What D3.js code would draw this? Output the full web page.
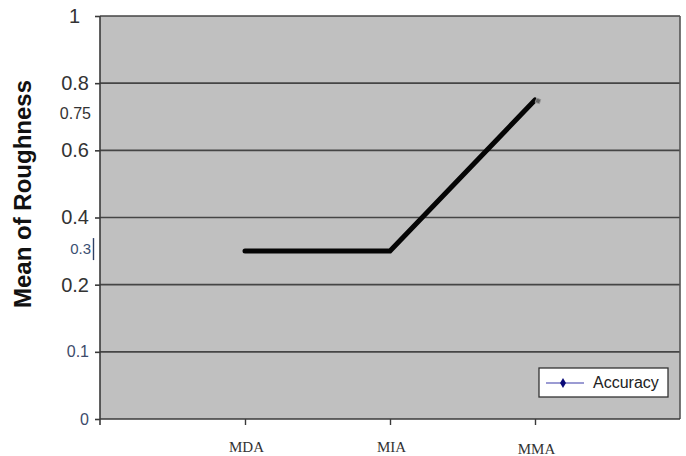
<!DOCTYPE html>
<html>
<head>
<meta charset="utf-8">
<script src="https://cdn.jsdelivr.net/npm/d3@7/dist/d3.min.js"></script>
<style>
  html, body { margin: 0; padding: 0; background: #fff; }
  svg { display: block; }
</style>
</head>
<body>
<svg id="chart" width="686" height="456"></svg>
<script>
// Method categories along the x axis
const categories = ["MDA", "MIA", "MMA"];
// Mean roughness (Accuracy series) per method
const accuracy = [0.3, 0.3, 0.75];
// Labelled tick values on the y axis (evenly spaced on screen)
const yTicks = [0, 0.1, 0.2, 0.4, 0.6, 0.8, 1];
// Values annotated beside the y axis
const valueLabels = [0.75, 0.3];
const seriesName = "Accuracy";
const yTitle = "Mean of Roughness";

const SANS = "'Liberation Sans', Arial, sans-serif";
const SERIF = "'Liberation Serif', 'Times New Roman', serif";

const svg = d3.select("#chart");
const plot = { left: 100, right: 680, top: 16, bottom: 419 };

const x = d3.scalePoint()
  .domain(categories)
  .range([plot.left, plot.right])
  .padding(1);

// Piecewise scale: each labelled tick takes an equal step on screen
const step = (plot.bottom - plot.top) / (yTicks.length - 1);
const y = d3.scaleLinear()
  .domain(yTicks)
  .range(yTicks.map((d, i) => plot.bottom - i * step));

// Plot background
svg.append("rect")
  .attr("x", plot.left).attr("y", plot.top)
  .attr("width", plot.right - plot.left)
  .attr("height", plot.bottom - plot.top)
  .attr("fill", "#c0c0c0");

// Horizontal gridlines
svg.append("g")
  .selectAll("line")
  .data(yTicks.filter(d => d > 0))
  .join("line")
  .attr("x1", plot.left).attr("x2", plot.right)
  .attr("y1", d => y(d)).attr("y2", d => y(d))
  .attr("stroke", "#454545")
  .attr("stroke-width", 1.6);

// Right frame edge
svg.append("line")
  .attr("x1", plot.right).attr("x2", plot.right)
  .attr("y1", plot.top).attr("y2", plot.bottom)
  .attr("stroke", "#555").attr("stroke-width", 1.6);

// Y axis
const yAxis = svg.append("g")
  .attr("transform", `translate(${plot.left},0)`)
  .call(d3.axisLeft(y)
    .tickValues(yTicks)
    .tickSize(5)
    .tickSizeOuter(0)
    .tickPadding(6)
    .tickFormat(d => String(d)));
yAxis.select(".domain").remove();
yAxis.selectAll(".tick line").attr("stroke", "#3a3a3a").attr("stroke-width", 1.6);
yAxis.selectAll(".tick text")
  .style("font-family", SANS)
  .style("font-size", d => (d < 0.2 ? 16 : 20) + "px")
  .attr("fill", d => d < 0.2 ? "#3d4b6b" : "#333")
  .attr("dx", d => d === 1 ? -9 : 0);

// Left axis line (runs slightly past the bottom edge)
svg.append("line")
  .attr("x1", plot.left).attr("x2", plot.left)
  .attr("y1", plot.top).attr("y2", plot.bottom + 6)
  .attr("stroke", "#3a3a3a").attr("stroke-width", 1.6);

// X axis
const xAxis = svg.append("g")
  .attr("transform", `translate(0,${plot.bottom})`)
  .call(d3.axisBottom(x).tickSize(6).tickSizeOuter(0).tickPadding(13));
xAxis.select(".domain")
  .attr("stroke", "#3a3a3a").attr("stroke-width", 1.6)
  .attr("d", `M${plot.left},0H${plot.right}`);
xAxis.selectAll(".tick line").attr("stroke", "#3a3a3a").attr("stroke-width", 1.4);
xAxis.selectAll(".tick text")
  .style("font-family", SERIF)
  .style("font-size", "15px")
  .attr("fill", "#333")
  .attr("dx", 1)
  .attr("dy", (d, i) => i === categories.length - 1 ? "1.05em" : "0.9em");

// Value annotations beside the y axis
const labelStyle = {
  0.75: { dy: 19, size: 16, fill: "#333" },
  0.3: { dy: 3, size: 15, fill: "#3b4f72" }
};
svg.append("g")
  .selectAll("text")
  .data(valueLabels)
  .join("text")
  .attr("x", 91)
  .attr("y", d => y(d) + labelStyle[d].dy)
  .attr("text-anchor", "end")
  .style("font-family", SANS)
  .style("font-size", d => labelStyle[d].size + "px")
  .attr("fill", d => labelStyle[d].fill)
  .text(d => String(d));

// Small cursor bar next to the 0.3 label
svg.append("line")
  .attr("x1", 93.5).attr("x2", 93.5)
  .attr("y1", y(0.3) - 13).attr("y2", y(0.3) + 9)
  .attr("stroke", "#2e3f66").attr("stroke-width", 1.4);

// Series line
const line = d3.line()
  .x((d, i) => x(categories[i]))
  .y(d => y(d));
svg.append("path")
  .datum(accuracy)
  .attr("d", line)
  .attr("fill", "none")
  .attr("stroke", "#050505")
  .attr("stroke-width", 5)
  .attr("stroke-linecap", "round")
  .attr("stroke-linejoin", "miter");

// Marker at the final point
const last = accuracy.length - 1;
svg.append("path")
  .attr("d", d3.symbol(d3.symbolSquare, 20)())
  .attr("transform", `translate(${x(categories[last]) + 3},${y(accuracy[last]) + 1}) rotate(20)`)
  .attr("fill", "#666")
  .attr("stroke", "#999")
  .attr("stroke-width", 0.8);

// Y axis title
svg.append("text")
  .attr("transform", "translate(31,194) rotate(-90)")
  .attr("text-anchor", "middle")
  .style("font-family", SANS)
  .style("font-size", "24px")
  .style("font-weight", "bold")
  .attr("fill", "#111")
  .text(yTitle);

// Legend
const legend = svg.append("g").attr("transform", "translate(539,368)");
legend.append("rect")
  .attr("width", 129).attr("height", 29)
  .attr("fill", "#fff")
  .attr("stroke", "#333").attr("stroke-width", 1.3);
legend.append("line")
  .attr("x1", 7).attr("x2", 45)
  .attr("y1", 15).attr("y2", 15)
  .attr("stroke", "#7a7ac4").attr("stroke-width", 1.6);
legend.append("path")
  .attr("d", d3.symbol(d3.symbolDiamond, 30)())
  .attr("transform", "translate(24,15)")
  .attr("fill", "#0a0a78");
legend.append("text")
  .attr("x", 54).attr("y", 20)
  .style("font-family", SANS)
  .style("font-size", "16px")
  .attr("fill", "#222")
  .text(seriesName);
</script>
</body>
</html>
